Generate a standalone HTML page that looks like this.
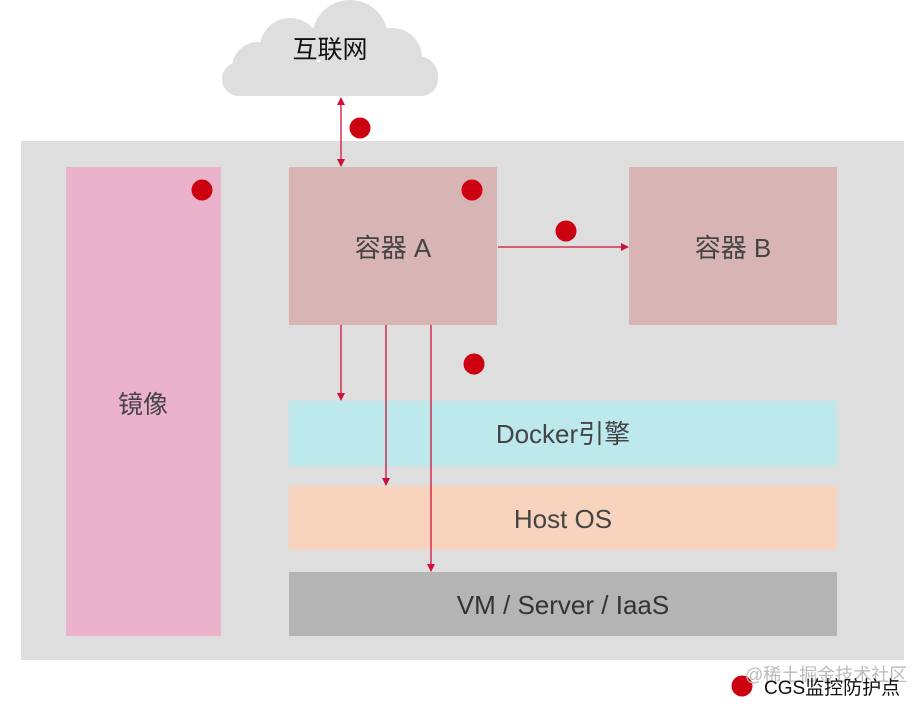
<!DOCTYPE html>
<html><head><meta charset="utf-8"><style>
body{margin:0;width:922px;height:706px;background:#fff;overflow:hidden;font-family:"Liberation Sans","Noto Sans CJK SC",sans-serif}
</style></head><body>
<svg width="922" height="706" xmlns="http://www.w3.org/2000/svg" style="position:absolute;left:0;top:0">
<defs><marker id="ah" markerWidth="8" markerHeight="8" refX="7" refY="4" orient="auto" markerUnits="userSpaceOnUse"><path d="M0,0 L8,4 L0,8 z" fill="#d0103a"/></marker>
<marker id="as" markerWidth="8" markerHeight="8" refX="1" refY="4" orient="auto" markerUnits="userSpaceOnUse"><path d="M8,0 L0,4 L8,8 z" fill="#d0103a"/></marker></defs>
<g fill="#dedede">
<rect x="222" y="62" width="216" height="34" rx="17"/>
<circle cx="258" cy="68" r="26"/>
<circle cx="290" cy="48" r="30"/>
<circle cx="350" cy="38" r="38"/>
<circle cx="392" cy="58" r="30"/>
<circle cx="418" cy="76" r="20"/>
<circle cx="245" cy="80" r="16"/>
</g>
<text x="330" y="58" font-size="25" text-anchor="middle" fill="#111">互联网</text>
<rect x="21" y="141" width="883" height="519" fill="#dedede"/>
<rect x="66" y="167" width="155" height="469" fill="#eab3cb"/>
<text x="143" y="413" font-size="25" text-anchor="middle" fill="#444">镜像</text>
<rect x="289" y="167" width="208" height="158" fill="#d8b4b4"/>
<text x="393" y="257" font-size="26" text-anchor="middle" fill="#444">容器 A</text>
<rect x="629" y="167" width="208" height="158" fill="#d8b4b4"/>
<text x="733" y="257" font-size="26" text-anchor="middle" fill="#444">容器 B</text>
<rect x="289" y="401" width="548" height="65" fill="#bde8ec"/>
<text x="563" y="443" font-size="26" text-anchor="middle" fill="#444">Docker引擎</text>
<rect x="289" y="486" width="548" height="64" fill="#f8d3bd"/>
<text x="563" y="528" font-size="26" text-anchor="middle" fill="#444">Host OS</text>
<rect x="289" y="572" width="548" height="64" fill="#b4b4b4"/>
<text x="563" y="614" font-size="26" text-anchor="middle" fill="#333">VM / Server / IaaS</text>
<g stroke="#d0103a" stroke-width="1.3">
<line x1="341" y1="98" x2="341" y2="166" marker-end="url(#ah)" marker-start="url(#as)"/>
<line x1="498" y1="247" x2="628" y2="247" marker-end="url(#ah)"/>
<line x1="341" y1="325" x2="341" y2="400" marker-end="url(#ah)"/>
<line x1="386" y1="325" x2="386" y2="485" marker-end="url(#ah)"/>
<line x1="431" y1="325" x2="431" y2="571" marker-end="url(#ah)"/>
</g>
<g fill="#cc0011">
<circle cx="360" cy="128" r="10.5"/>
<circle cx="202" cy="190" r="10.5"/>
<circle cx="472" cy="190" r="10.5"/>
<circle cx="566" cy="231" r="10.5"/>
<circle cx="474" cy="364" r="10.5"/>
<circle cx="742" cy="686" r="10.5"/>
</g>
<text x="745" y="681" font-size="18" fill="#bbb">@稀土掘金技术社区</text>
<text x="764" y="694" font-size="19" fill="#111">CGS监控防护点</text>
</svg>
</body></html>
